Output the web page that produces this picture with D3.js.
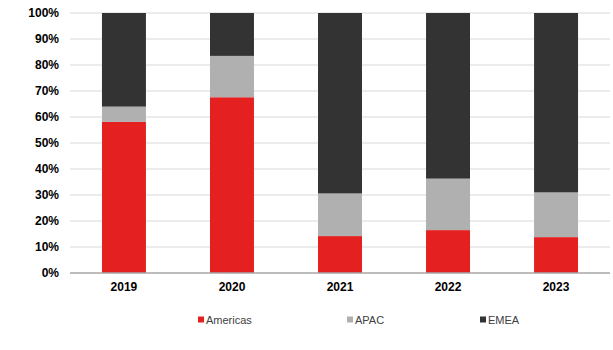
<!DOCTYPE html>
<html>
<head>
<meta charset="utf-8">
<script src="https://cdn.jsdelivr.net/npm/d3@7"></script>
<style>
  body { margin: 0; background: #fff; }
  svg { display: block; font-family: "Liberation Sans", Arial, sans-serif; }
</style>
</head>
<body>
<svg id="chart" width="613" height="350"></svg>
<script>
// Regional revenue share by year (percent of total)
const years = ["2019", "2020", "2021", "2022", "2023"];
const seriesNames = ["Americas", "APAC", "EMEA"];
const americas = [58.1, 67.6, 14.2, 16.5, 13.8];
const apac = [5.9, 15.9, 16.4, 19.8, 17.2];
const emea = [36.0, 16.5, 69.4, 63.7, 69.0];
const colors = ["#e52020", "#b0b0b0", "#333333"];
const yTicks = [0, 10, 20, 30, 40, 50, 60, 70, 80, 90, 100];

const rows = years.map((y, i) => ({ year: y, Americas: americas[i], APAC: apac[i], EMEA: emea[i] }));

const svg = d3.select("#chart");
const m = { left: 70, right: 3, top: 13, bottom: 77 };
const W = 613, H = 350;

const x = d3.scaleBand().domain(years).range([m.left, W - m.right]).paddingInner(0.593).paddingOuter(0.296);
const y = d3.scaleLinear().domain([0, 100]).range([H - m.bottom, m.top]);

// Gridlines
svg.append("g").selectAll("line").data(yTicks.filter(t => t > 0)).join("line")
  .attr("x1", m.left).attr("x2", W - m.right)
  .attr("y1", d => y(d)).attr("y2", d => y(d))
  .attr("stroke", "#d9d9d9").attr("stroke-width", 1);

// Stacked bars
const stack = d3.stack().keys(seriesNames)(rows);
svg.append("g").selectAll("g").data(stack).join("g")
  .attr("fill", (d, i) => colors[i])
  .selectAll("rect").data(d => d).join("rect")
  .attr("x", d => x(d.data.year))
  .attr("width", x.bandwidth())
  .attr("y", d => y(d[1]))
  .attr("height", d => y(d[0]) - y(d[1]));

// Baseline
svg.append("line")
  .attr("x1", m.left).attr("x2", W - m.right)
  .attr("y1", y(0)).attr("y2", y(0))
  .attr("stroke", "#a6a6a6").attr("stroke-width", 1.5);

// Y axis labels
svg.append("g").selectAll("text").data(yTicks).join("text")
  .attr("x", 59).attr("y", d => y(d)).attr("dy", "0.35em")
  .attr("text-anchor", "end")
  .attr("font-size", 12).attr("font-weight", "bold").attr("fill", "#000")
  .text(d => d + "%");

// X axis labels
svg.append("g").selectAll("text").data(years).join("text")
  .attr("x", d => x(d) + x.bandwidth() / 2).attr("y", y(0) + 14).attr("dy", "0.35em")
  .attr("text-anchor", "middle")
  .attr("font-size", 12).attr("font-weight", "bold").attr("fill", "#000")
  .text(d => d);

// Legend
const legendX = [198, 347, 480];
const lg = svg.append("g").selectAll("g").data(seriesNames).join("g")
  .attr("transform", (d, i) => `translate(${legendX[i]},320)`);
lg.append("rect").attr("x", 0).attr("y", -3.5).attr("width", 6).attr("height", 6)
  .attr("fill", (d, i) => colors[i]);
lg.append("text").attr("x", 8).attr("y", 0).attr("dy", "0.35em")
  .attr("font-size", 11).attr("fill", "#404040")
  .text(d => d);
</script>
</body>
</html>
